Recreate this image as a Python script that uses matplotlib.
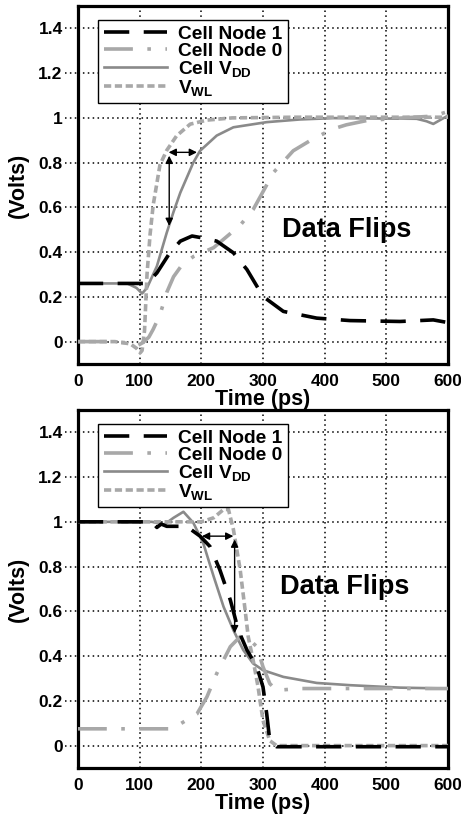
import matplotlib
matplotlib.use("Agg")
import matplotlib.pyplot as plt
from matplotlib.transforms import blended_transform_factory

plt.rcParams['font.family'] = ['Liberation Sans', 'DejaVu Sans']
plt.rcParams['font.weight'] = 'bold'
plt.rcParams['mathtext.fontset'] = 'custom'
plt.rcParams['mathtext.default'] = 'bf'
plt.rcParams['mathtext.bf'] = 'Liberation Sans:bold'
plt.rcParams['mathtext.rm'] = 'Liberation Sans:bold'
plt.rcParams['mathtext.it'] = 'Liberation Sans:bold'

# ---------------- data: top panel (write 1) ----------------
top_n1_t = [0, 100, 112, 128, 149, 166, 185, 201, 225, 252, 274, 300, 333, 387, 441, 522, 576, 600]
top_n1_v = [0.26, 0.26, 0.26, 0.307, 0.397, 0.449, 0.472, 0.464, 0.449, 0.397, 0.322, 0.202, 0.135, 0.105, 0.094, 0.09, 0.097, 0.085]

top_n0_t = [0, 50, 80, 95, 105, 115, 122, 133, 144, 155, 168, 187, 220, 263, 284, 300, 317, 349, 381, 414, 435, 468, 522, 576, 597, 600]
top_n0_v = [0, 0, -0.005, -0.02, -0.005, 0.02, 0.055, 0.12, 0.22, 0.29, 0.34, 0.38, 0.42, 0.52, 0.59, 0.67, 0.756, 0.853, 0.906, 0.951, 0.969, 0.988, 0.999, 1.008, 1.026, 1.02]

top_vdd_t = [0, 80, 95, 104, 112, 128, 144, 155, 166, 187, 198, 225, 252, 306, 360, 414, 549, 565, 576, 590, 600]
top_vdd_v = [0.26, 0.26, 0.24, 0.215, 0.24, 0.337, 0.487, 0.58, 0.666, 0.80, 0.853, 0.921, 0.958, 0.981, 0.993, 0.999, 0.996, 0.985, 0.973, 0.995, 1.01]

top_wl_t = [0, 60, 85, 95, 101, 104, 108, 112, 117, 122, 133, 144, 160, 182, 209, 250, 350, 450, 600]
top_wl_v = [0, 0, -0.01, -0.03, -0.05, -0.04, 0.05, 0.3, 0.48, 0.61, 0.79, 0.855, 0.92, 0.972, 0.99, 1.0, 1.003, 1.003, 1.003]

# ---------------- data: bottom panel (write 0) ----------------
bot_n1_t = [0, 120, 128, 135, 144, 160, 176, 198, 214, 230, 247, 260, 274, 290, 300, 306, 311, 322, 400, 600]
bot_n1_v = [1.0, 1.0, 0.975, 0.99, 0.98, 0.98, 0.98, 0.936, 0.89, 0.786, 0.651, 0.516, 0.427, 0.352, 0.262, 0.142, 0.022, -0.005, -0.005, -0.005]

bot_n0_t = [0, 150, 166, 193, 209, 225, 247, 263, 276, 290, 300, 311, 322, 360, 600]
bot_n0_v = [0.075, 0.075, 0.097, 0.142, 0.217, 0.322, 0.442, 0.487, 0.479, 0.442, 0.352, 0.277, 0.247, 0.255, 0.255]

bot_vdd_t = [0, 120, 140, 155, 171, 187, 203, 220, 236, 252, 268, 284, 300, 333, 387, 441, 522, 600]
bot_vdd_v = [1.0, 1.0, 0.988, 1.018, 1.045, 0.996, 0.906, 0.756, 0.621, 0.516, 0.427, 0.367, 0.337, 0.307, 0.28, 0.27, 0.259, 0.255]

bot_wl_t = [0, 150, 200, 220, 236, 244, 252, 263, 271, 276, 284, 292, 300, 311, 322, 400, 600]
bot_wl_v = [1.0, 1.0, 1.0, 1.018, 1.055, 1.055, 0.966, 0.786, 0.606, 0.487, 0.382, 0.262, 0.112, 0.022, 0, 0, 0]

labels = ['Cell Node 1', 'Cell Node 0', 'Cell V$_{DD}$', 'V$_{WL}$']
xticks = [0, 100, 200, 300, 400, 500, 600]
yticks = [0, 0.2, 0.4, 0.6, 0.8, 1.0, 1.2, 1.4]
ytick_labels = ['0', '0.2', '0.4', '0.6', '0.8', '1', '1.2', '1.4']

# arrows: (x1, y1, x2, y2)
top_arrows = [(147, 0.846, 193, 0.846), (148, 0.831, 148, 0.517)]
bot_arrows = [(201, 0.936, 252, 0.936), (254, 0.921, 254, 0.502)]

fig = plt.figure(figsize=(4.61, 8.15), dpi=100)
ax1 = fig.add_axes([0.169, 0.5534, 0.803, 0.4392])
ax2 = fig.add_axes([0.169, 0.0577, 0.803, 0.4393])


def style_panel(ax, series, arrows, txt_xy):
    (n1t, n1v), (n0t, n0v), (vt, vv), (wt, wv) = series
    ax.plot(n1t, n1v, color='black', lw=2.6, ls=(0, (7, 4)), label=labels[0], zorder=5)
    ax.plot(n0t, n0v, color='#a8a8a8', lw=2.6, ls=(0, (8, 4, 1, 4)), label=labels[1], zorder=4)
    ax.plot(vt, vv, color='#8a8a8a', lw=1.9, ls='-', label=labels[2], zorder=3)
    ax.plot(wt, wv, color='#a8a8a8', lw=2.6, ls=(0, (2, 1)), label=labels[3], zorder=4)
    ax.set_xlim(0, 600)
    ax.set_ylim(-0.1, 1.5)
    ax.set_xticks(xticks)
    ax.set_yticks(yticks)
    ax.set_yticklabels(ytick_labels)
    ax.tick_params(axis='both', length=0, labelsize=12.5)
    ax.tick_params(axis='y', pad=11)
    ax.tick_params(axis='x', pad=7)
    for lab in ax.get_xticklabels() + ax.get_yticklabels():
        lab.set_fontweight('bold')
    ax.grid(True, color='black', ls=(0, (1, 2.2)), lw=1.1)
    # dotted outward y ticks
    tr = blended_transform_factory(ax.transAxes, ax.transData)
    for y in yticks:
        ax.plot([-0.035, 0], [y, y], transform=tr, color='black', lw=1.1,
                ls=(0, (1, 2.2)), clip_on=False)
    for sp in ax.spines.values():
        sp.set_linewidth(2.3)
    ax.set_xlabel('Time (ps)', fontsize=15.5, fontweight='bold', labelpad=0)
    ax.set_ylabel('(Volts)', fontsize=15.5, fontweight='bold')
    ax.yaxis.set_label_coords(-0.133, 0.5)
    for (x1, y1, x2, y2) in arrows:
        ax.annotate('', xy=(x2, y2), xytext=(x1, y1),
                    arrowprops=dict(arrowstyle='<|-|>', color='black', lw=1.0,
                                    mutation_scale=11, shrinkA=0, shrinkB=0), zorder=6)
    ax.text(txt_xy[0], txt_xy[1], 'Data Flips', fontsize=19.5, fontweight='bold',
            ha='center', va='center')
    leg = ax.legend(loc='upper left', bbox_to_anchor=(0.054, 0.961), borderaxespad=0,
                    handlelength=3.3, handletextpad=0.6, labelspacing=-0.05,
                    borderpad=0.3, fancybox=False, framealpha=1, edgecolor='black',
                    prop={'weight': 'bold', 'size': 13.8})
    leg.get_frame().set_linewidth(1.0)


style_panel(ax1, [(top_n1_t, top_n1_v), (top_n0_t, top_n0_v), (top_vdd_t, top_vdd_v), (top_wl_t, top_wl_v)],
            top_arrows, (436, 0.50))
style_panel(ax2, [(bot_n1_t, bot_n1_v), (bot_n0_t, bot_n0_v), (bot_vdd_t, bot_vdd_v), (bot_wl_t, bot_wl_v)],
            bot_arrows, (433, 0.71))

fig.savefig('out.png', dpi=100)
